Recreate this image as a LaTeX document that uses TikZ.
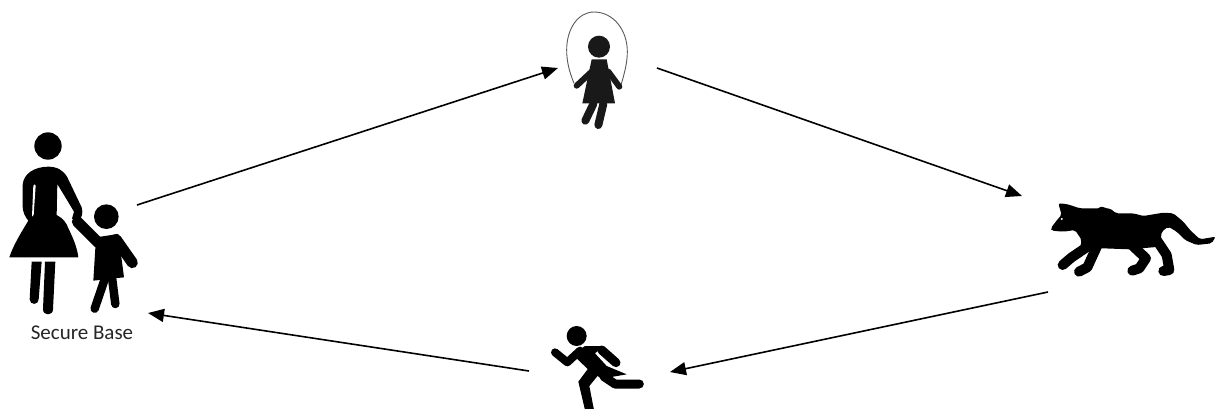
\documentclass[tikz,border=0pt]{standalone}
\usepackage{fontspec}
\setmainfont{Carlito}
\usetikzlibrary{arrows.meta,positioning}
\begin{document}
\begin{tikzpicture}[x=1pt,y=-1pt, every node/.style={font=\fontsize{21}{24}\selectfont, text=black!85}]
  \tikzset{
    icon/.style={fill=black, draw=none},
    limb/.style={draw=black, line cap=round, line join=round},
    move/.style={-{Triangle[length=16pt,width=13pt]}, line width=1.6pt}
  }
  \useasboundingbox (0,0) rectangle (1216,408);

  % mother and child
  \begin{scope}[shift={(0,120)},scale=1/3]
    \fill[icon] (144,78) circle (41);
    \fill[icon] (68,195) .. controls (70,160) and (105,140) .. (145,140) .. controls (170,140) and (190,150) .. (202,172)
      -- (245,262) .. controls (250,280) and (245,292) .. (238,300) -- (216,296) -- (222,275) -- (172,192) -- (170,285)
      .. controls (190,295) and (200,310) .. (205,325) .. controls (220,355) and (232,385) .. (235,412) -- (28,412)
      .. controls (40,375) and (65,335) .. (85,302) .. controls (75,290) and (68,275) .. (68,260) -- cycle;
    \fill[white] (100,197) .. controls (102,192) and (107,192) .. (107,197) -- (101,285) -- (96,290) -- cycle;
    \fill[icon] (95,425) -- (125,425) -- (116,538) .. controls (116,556) and (89,556) .. (89,538) -- cycle;
    \fill[icon] (135,425) -- (166,425) -- (159,568) .. controls (159,588) and (129,588) .. (129,568) -- cycle;
    \fill[icon] (319,290) circle (37);
    \draw[limb,line width=11pt] (232,305) -- (295,368);
    \draw[limb,line width=11pt] (348,358) -- (397,428);
    \fill[icon] (288,352) -- (355,342) -- (362,395) -- (372,472) -- (280,482) -- cycle;
    \draw[limb,line width=8.5pt] (314,478) -- (284,566);
    \draw[limb,line width=8.5pt] (336,472) -- (346,552);
  \end{scope}

  % skipping girl
  \begin{scope}[shift={(550,0)},scale=1/3]
    \draw[gray!70!black,line width=0.9pt] (72,250) .. controls (58,215) and (50,185) .. (50,150)
      .. controls (50,85) and (85,36) .. (132,36) .. controls (190,36) and (232,90) .. (232,155)
      .. controls (232,190) and (222,225) .. (212,258);
    \fill[black!90] (147,140) circle (33);
    \fill[black!90] (125,178) -- (170,178) -- (195,310) -- (97,310) -- cycle;
    \draw[limb,draw=black!90,line width=6pt] (125,215) -- (80,257);
    \draw[limb,draw=black!90,line width=6pt] (175,215) -- (208,260);
    \draw[limb,draw=black!90,line width=8pt] (130,312) -- (106,362);
    \draw[limb,draw=black!90,line width=8pt] (160,312) -- (145,375);
  \end{scope}

  % wolf
  \begin{scope}[shift={(1030,180)},scale=1/3]
    \fill[icon,rounded corners=2pt] (62,145) -- (85,115) -- (95,105) -- (85,70) -- (110,72) -- (150,85) -- (210,85)
      -- (215,78) -- (225,85) -- (240,85) -- (258,100) -- (310,100) -- (340,108) -- (400,98) -- (430,100)
      -- (460,125) -- (480,150) -- (510,178) -- (557,170) -- (545,190) -- (500,195) -- (465,180) -- (440,155)
      -- (415,140) -- (395,155) -- (390,200) -- (300,208) -- (220,205) -- (150,205) -- (155,180) -- (135,150)
      -- (100,155) -- (65,152) -- cycle;
    \draw[limb,line width=10pt] (180,195) -- (125,232) -- (98,255);
    \draw[limb,line width=10pt] (205,190) -- (172,262) -- (147,275);
    \draw[limb,line width=10pt] (300,190) -- (348,235) -- (328,265) -- (307,272);
    \draw[limb,line width=10pt] (380,180) -- (410,225) -- (418,270) -- (400,273);
    \fill[white] (95,117) circle (3.5);
  \end{scope}

  % runner
  \begin{scope}
    \clip (0,0) rectangle (1216,408);
    \begin{scope}[shift={(530,330)},scale=1/3]
      \fill[icon] (140,18) circle (30);
      \draw[limb,line width=8pt] (75,67) -- (112,97) -- (150,62);
      \draw[limb,line width=9pt] (215,60) -- (258,98);
      \fill[icon] (148,60) -- (165,48) -- (222,48) -- (195,70) -- (230,108) -- (290,133) -- (215,146) -- (178,122) -- (140,85) -- cycle;
      \fill[icon] (175,115) -- (205,135) -- (178,168) -- (192,240) -- (165,240) -- (145,155) -- cycle;
      \draw[limb,line width=9pt] (222,140) -- (255,162) -- (328,162);
    \end{scope}
  \end{scope}

  % labels
  \node (base) at (82,333) {Secure Base};

  % arrows
  \coordinate (baseout) at (137,205);
  \coordinate (girlin) at (558,68);
  \coordinate (girlout) at (657,68);
  \coordinate (wolfin) at (1022,196);
  \coordinate (wolfout) at (1048,292);
  \coordinate (runin) at (670,372);
  \coordinate (runout) at (529,371);
  \coordinate (basein) at (148,313);
  \draw[move] (baseout) -- (girlin);
  \draw[move] (girlout) -- (wolfin);
  \draw[move] (wolfout) -- (runin);
  \draw[move] (runout) -- (basein);
\end{tikzpicture}
\end{document}
